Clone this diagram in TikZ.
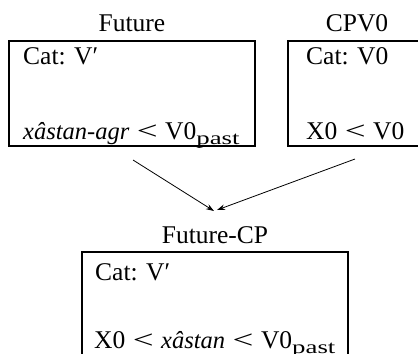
\documentclass[tikz,border=0pt]{standalone}
\usepackage{graphicx}
\usepackage{fontspec}
\setmainfont{Liberation Serif}
\usetikzlibrary{arrows.meta}
% relation sign and subscript as set in the feature boxes
\newcommand{\rel}{\hspace{7.5bp}\scalebox{1.45}[1]{<}\hspace{7.5bp}}
\newcommand{\lowidx}[1]{\raisebox{-5bp}{\scalebox{1.45}[1]{\fontsize{18.5bp}{22bp}\selectfont #1}}}
\newcommand{\morph}[1]{{\fontsize{24.5bp}{28bp}\selectfont\itshape #1}}
\begin{document}
\begin{tikzpicture}[x=1bp,y=-1bp,
  font=\fontsize{25.5bp}{30bp}\selectfont,
  frame/.style={draw,line width=1.5bp},
  title/.style={anchor=base,inner sep=0pt},
  line/.style={anchor=base west,inner sep=0pt},
  link/.style={line width=0.8bp,-{Stealth[length=8bp,width=5.5bp]}}]
\useasboundingbox (0,0) rectangle (418,354);
% left frame: Future
\node[title] (futt) at (132,31) {Future};
\draw[frame] (9,41) rectangle (255,146);
\node[line] (fut1) at (23,64) {Cat: V′};
\node[line] (fut2) at (23,139) {\morph{xâstan-agr}\rel V0\lowidx{past}};
% right frame: CPV0 (runs past the edge)
\node[title] (cpvt) at (357,31) {CPV0};
\draw[frame] (288,41) rectangle (430,146);
\node[line] (cpv1) at (306,64) {Cat: V0};
\node[line] (cpv2) at (306,139) {X0\rel V0};
% bottom frame: Future-CP (runs past the edge)
\node[title] (fcpt) at (215,243) {Future-CP};
\draw[frame] (82,252) rectangle (348,370);
\node[line] (fcp1) at (95,280) {Cat: V′};
\node[line] (fcp2) at (94,348) {X0\rel\morph{xâstan}\rel V0\lowidx{past}};
% connectors
\coordinate (s1) at (133,160);
\coordinate (s2) at (355,159);
\coordinate (e1) at (214,211);
\coordinate (e2) at (217,210);
\draw[link] (s1) -- (e1);
\draw[link] (s2) -- (e2);
\end{tikzpicture}
\end{document}
